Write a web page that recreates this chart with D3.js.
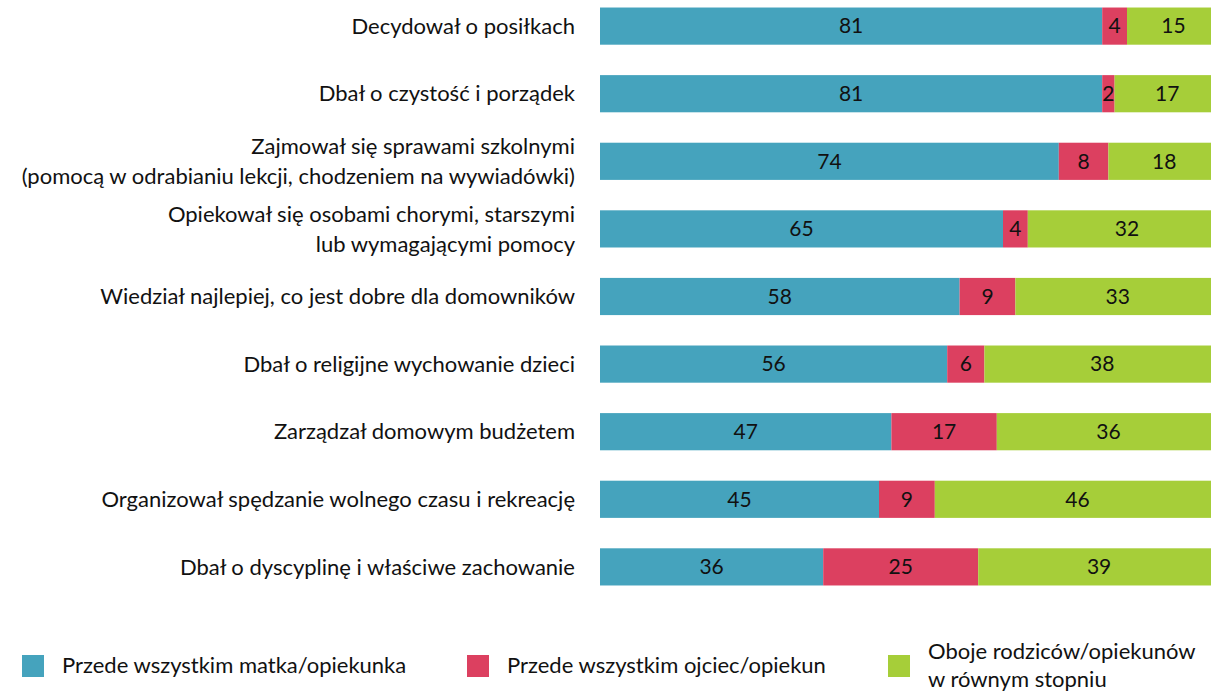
<!DOCTYPE html>
<html lang="pl">
<head>
<meta charset="UTF-8">
<script src="https://d3js.org/d3.v7.min.js"></script>
<style>
  body { margin: 0; background: #fff; overflow: hidden; }
  svg text { font-family: Lato, 'Open Sans', sans-serif; fill: #111; }
</style>
</head>
<body>
<div id="chart"></div>
<script>
const categories = [
  ["Decydował o posiłkach"],
  ["Dbał o czystość i porządek"],
  ["Zajmował się sprawami szkolnymi", "(pomocą w odrabianiu lekcji, chodzeniem na wywiadówki)"],
  ["Opiekował się osobami chorymi, starszymi", "lub wymagającymi pomocy"],
  ["Wiedział najlepiej, co jest dobre dla domowników"],
  ["Dbał o religijne wychowanie dzieci"],
  ["Zarządzał domowym budżetem"],
  ["Organizował spędzanie wolnego czasu i rekreację"],
  ["Dbał o dyscyplinę i właściwe zachowanie"]
];
const mother = [81, 81, 74, 65, 58, 56, 47, 45, 36];
const father = [4, 2, 8, 4, 9, 6, 17, 9, 25];
const both   = [15, 17, 18, 32, 33, 38, 36, 46, 39];
const seriesNames = [
  ["Przede wszystkim matka/opiekunka"],
  ["Przede wszystkim ojciec/opiekun"],
  ["Oboje rodziców/opiekunów", "w równym stopniu"]
];
const colors = ["#45A3BD", "#DC4060", "#A6CE39"];

const W = 1211, H = 691;
const svg = d3.select("#chart").append("svg").attr("width", W).attr("height", H);

const x = d3.scaleLinear().domain([0, 100]).range([600, 1220]);
const y = d3.scaleBand().domain(d3.range(categories.length)).range([-6, 599]).paddingInner(0.45).paddingOuter(0.2);

const rows = categories.map((c, i) => {
  const vals = [mother[i], father[i], both[i]];
  let acc = 0;
  return vals.map((v, k) => { const s = acc; acc += v; return {i, k, v, s, e: acc}; });
});

const g = svg.append("g");
rows.forEach(segs => {
  segs.forEach(d => {
    g.append("rect")
      .attr("x", x(d.s)).attr("y", y(d.i))
      .attr("width", x(d.e) - x(d.s)).attr("height", y.bandwidth())
      .attr("fill", colors[d.k]);
    g.append("text")
      .attr("x", (x(d.s) + x(d.e)) / 2)
      .attr("y", y(d.i) + y.bandwidth() / 2)
      .attr("dy", "0.35em")
      .attr("text-anchor", "middle")
      .attr("font-size", "21px")
      .text(d.v);
  });
});

// category labels
categories.forEach((lines, i) => {
  const cy = y(i) + y.bandwidth() / 2;
  const t = svg.append("text").attr("text-anchor", "end").attr("font-size", "22px");
  lines.forEach((l, j) => {
    t.append("tspan").attr("x", 575)
      .attr("y", cy + (j - (lines.length - 1) / 2) * 30)
      .attr("dy", "0.35em").text(l);
  });
});

// legend
const legendX = [22, 467, 888];
seriesNames.forEach((lines, k) => {
  svg.append("rect").attr("x", legendX[k]).attr("y", 655)
    .attr("width", 22).attr("height", 22).attr("fill", colors[k]);
  const t = svg.append("text").attr("font-size", "22px");
  lines.forEach((l, j) => {
    t.append("tspan").attr("x", legendX[k] + 40)
      .attr("y", 665 + (j - (lines.length - 1) / 2) * 28)
      .attr("dy", "0.35em").text(l);
  });
});
</script>
</body>
</html>
